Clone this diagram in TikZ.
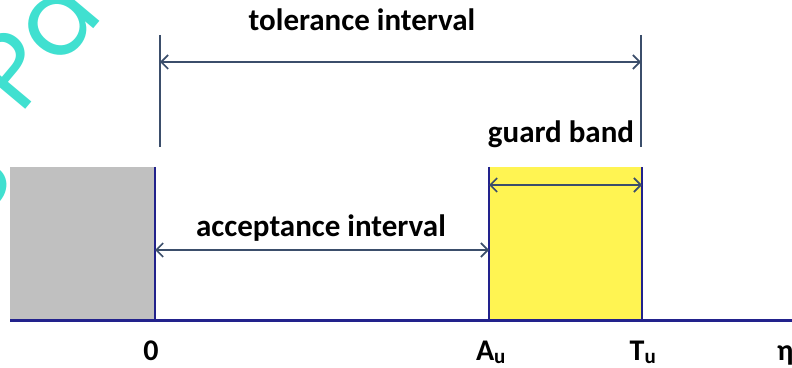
\documentclass[tikz,border=0pt]{standalone}
\usepackage{fontspec}
\setmainfont{Carlito}
\newfontfamily\wmfont{Poppins}
\usetikzlibrary{arrows.meta}
\definecolor{navy}{HTML}{22228C}
\definecolor{dimc}{HTML}{3B4E6B}
\definecolor{grayfill}{HTML}{C0C0C0}
\definecolor{yellowfill}{HTML}{FFF452}
\definecolor{wmc}{HTML}{40E0D0}
\tikzset{
  lbl/.style={font=\fontsize{31}{31}\selectfont\bfseries, inner sep=0pt, anchor=base},
  axislbl/.style={font=\fontsize{30}{30}\selectfont\bfseries, inner sep=0pt, anchor=base},
  edge/.style={draw=navy, line width=2.6pt},
  ext/.style={draw=dimc, line width=2.2pt},
  dimarrow/.style={draw=dimc, line width=1.6pt, {Straight Barb[length=7pt,width=14pt,line width=1.6pt]}-{Straight Barb[length=7pt,width=14pt,line width=1.6pt]}},
  wm/.style={text=wmc, font=\wmfont\fontsize{105}{105}\selectfont, rotate=50, inner sep=0pt}
}
\begin{document}
\begin{tikzpicture}[x=1pt,y=1pt]
\useasboundingbox (0,0) rectangle (792,367);
\begin{scope}
\clip (0,0) rectangle (792,367);
% watermark, first letter partly under the grey block
\node[wm, anchor=base east] (wm1) at (19,189) {S};
% fills
\fill[grayfill] (10,47) rectangle (155,200);
\fill[yellowfill] (489,47) rectangle (642,200);
% coordinates
\coordinate (base0) at (10,47);
\coordinate (baseEnd) at (792,47);
\coordinate (zeroTop) at (155,200);
\coordinate (zeroBot) at (155,47);
\coordinate (auTop) at (489,200);
\coordinate (auBot) at (489,47);
\coordinate (tuTop) at (642,200);
\coordinate (tuBot) at (642,47);
\coordinate (tolL1) at (160,332);
\coordinate (tolL2) at (160,220);
\coordinate (tolR1) at (641,332);
\coordinate (tolR2) at (641,220);
\node[wm, anchor=base west] (wm2) at (20,251) {Pa};
% edges
\draw[edge] (zeroTop) -- (zeroBot);
\draw[edge] (auTop) -- (auBot);
\draw[edge] (tuTop) -- (tuBot);
\draw[draw=navy, line width=3pt] (base0) -- (baseEnd);
% extension lines
\draw[ext] (tolL1) -- (tolL2);
\draw[ext] (tolR1) -- (tolR2);
% dimension arrows
\coordinate (tolA) at (160,305);
\coordinate (tolB) at (641,305);
\draw[dimarrow] (tolA) -- (tolB);
\coordinate (gbA) at (489,182);
\coordinate (gbB) at (642,182);
\draw[dimarrow] (gbA) -- (gbB);
\coordinate (acA) at (155,117);
\coordinate (acB) at (489,117);
\draw[dimarrow] (acA) -- (acB);
% labels
\node[lbl] (tol) at (362,336) {tolerance interval};
\node[lbl] (gb) at (561,224) {guard band};
\node[lbl] (acc) at (321,130) {acceptance interval};
\node[axislbl] (l0) at (151,7) {0};
\node[axislbl] (lA) at (491,7) {A\textsubscript{u}};
\node[axislbl] (lT) at (643,7) {T\textsubscript{u}};
\node[axislbl, anchor=base west] (leta) at (777,7) {η};
\end{scope}
\end{tikzpicture}
\end{document}
